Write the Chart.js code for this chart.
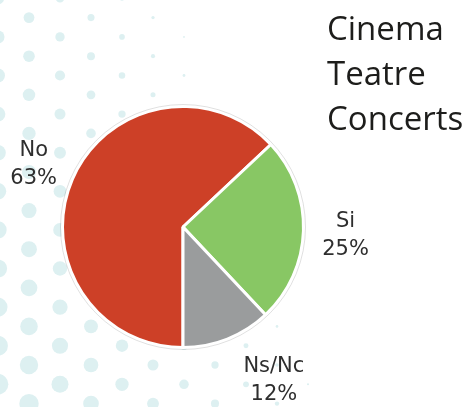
<!DOCTYPE html>
<html>
<head>
<meta charset="utf-8">
<script src="https://cdn.jsdelivr.net/npm/chart.js@4/dist/chart.umd.min.js"></script>
<style>
  html, body { margin: 0; padding: 0; background: #fff; }
  #wrap { position: relative; width: 467px; height: 407px; overflow: hidden; }
  #dots, #wrap > div.chart-box { position: absolute; left: 0; top: 0; }
  .chart-box { width: 467px; height: 407px; }
  #title {
    position: absolute; left: 327px; top: 5px;
    font-family: "Open Sans", sans-serif; font-size: 33px; line-height: 45px;
    color: #1d1d1b;
  }
</style>
</head>
<body>
<div id="wrap">
  <canvas id="dots" width="467" height="407"></canvas>
  <div class="chart-box"><canvas id="my-chart"></canvas></div>
  <div id="title">Cinema<br>Teatre<br>Concerts</div>
</div>
<script>
var labels = ["No", "Si", "Ns/Nc"];
var values = [63, 25, 12];
var colors = ["#cd4027", "#88c764", "#9a9c9d"];

// light teal halftone dots in the background
function drawDots() {
  var ctx = document.getElementById("dots").getContext("2d");
  ctx.fillStyle = "rgb(221, 240, 241)";
  var ax = 31, ay = 19.3, bx = -31, by = 19.3;
  for (var i = -30; i < 30; i++) {
    for (var j = -30; j < 30; j++) {
      var x = 60 + i * ax + j * bx;
      var y = 345.7 + i * ay + j * by;
      if (x < -10 || x > 470 || y < -10 || y > 420) continue;
      var r = 8.6 - 0.03 * (x - 20) - 0.011 * (285 - y);
      if (r < 0.8) continue;
      ctx.beginPath();
      ctx.arc(x, y, r, 0, Math.PI * 2);
      ctx.fill();
    }
  }
}

var sliceLabels = {
  id: "sliceLabels",
  afterDatasetsDraw(chart, args, opts) {
    var ctx = chart.ctx;
    var meta = chart.getDatasetMeta(0);
    ctx.save();
    // faint outline round the pie
    var first = meta.data[0];
    ctx.beginPath();
    ctx.arc(first.x, first.y, first.outerRadius + 2, 0, Math.PI * 2);
    ctx.strokeStyle = "rgba(0,0,0,0.12)";
    ctx.lineWidth = 1;
    ctx.stroke();

    ctx.fillStyle = "#2e2e2e";
    ctx.font = "21px 'DejaVu Sans'";
    ctx.textAlign = "center";
    ctx.textBaseline = "middle";
    meta.data.forEach(function (arc, i) {
      var mid = (arc.startAngle + arc.endAngle) / 2;
      var d = arc.outerRadius * opts.distance;
      var off = opts.offsets[i] || [0, 0];
      var x = arc.x + Math.cos(mid) * d + off[0];
      var y = arc.y + Math.sin(mid) * d + off[1];
      ctx.fillText(chart.data.labels[i], x, y - 14);
      ctx.fillText(values[i] + "%", x, y + 14);
    });
    ctx.restore();
  }
};

function renderChart() {
  var ctx = document.getElementById("my-chart").getContext("2d");
  var myChart = new Chart(ctx, {
    type: "pie",
    data: {
      labels: labels,
      datasets: [
        {
          data: values,
          backgroundColor: colors,
          borderColor: "#ffffff",
          borderWidth: 3,
          hoverOffset: 0,
        },
      ],
    },
    options: {
      responsive: true,
      maintainAspectRatio: false,
      animation: false,
      rotation: 180,
      layout: {
        padding: { top: 105, left: 61, right: 162, bottom: 58 },
      },
      plugins: {
        legend: { display: false },
        tooltip: { enabled: false },
        sliceLabels: { distance: 1.35, offsets: [[0, 2], [0, 3], [31, 2]] },
      },
    },
    plugins: [sliceLabels],
  });
}

drawDots();
renderChart();
</script>
</body>
</html>
